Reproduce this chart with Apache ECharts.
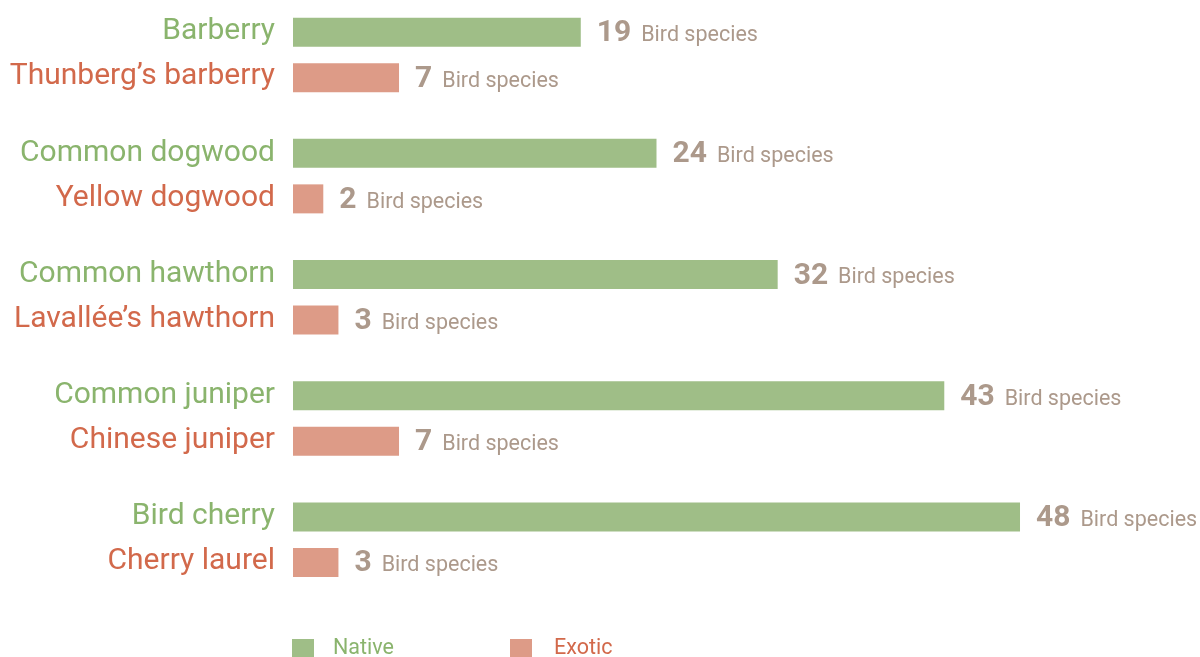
<!DOCTYPE html>
<html>
<head>
<meta charset="utf-8">
<script src="https://cdn.jsdelivr.net/npm/echarts@6/dist/echarts.min.js"></script>
<style>html,body{margin:0;padding:0;background:#fff}#c{width:1200px;height:657px}</style>
</head>
<body>
<div id="c"></div>
<script>
var nativeNames = ['Barberry', 'Common dogwood', 'Common hawthorn', 'Common juniper', 'Bird cherry'];
var exoticNames = ['Thunberg\u2019s barberry', 'Yellow dogwood', 'Lavall\u00e9e\u2019s hawthorn', 'Chinese juniper', 'Cherry laurel'];
var nativeValues = [19, 24, 32, 43, 48];
var exoticValues = [7, 2, 3, 7, 3];
var seriesNames = ['Native', 'Exotic'];
var unitText = 'Bird species';

var GREEN_BAR = '#9fbe87', RED_BAR = '#dd9b87';
var GREEN_TXT = '#8ab46d', RED_TXT = '#d2694b';
var VAL_TXT = '#ac998b';
var FONT = 'Roboto';

var chart = echarts.init(document.getElementById('c'), null, {renderer: 'canvas'});

function valueLabel() {
  return {
    show: true,
    position: 'right',
    distance: 16,
    formatter: function (p) { return '{n|' + p.value + '}{u|' + unitText + '}'; },
    rich: {
      n: {fontFamily: FONT, fontSize: 30, fontWeight: 'bold', color: VAL_TXT, padding: [0, 10, 0, 0], verticalAlign: 'bottom', lineHeight: 33},
      u: {fontFamily: FONT, fontSize: 21.5, color: VAL_TXT, verticalAlign: 'bottom', lineHeight: 33, padding: [0, 0, 2, 0]}
    }
  };
}

chart.setOption({
  animation: false,
  textStyle: {fontFamily: FONT},
  grid: {left: 293, top: -5.7, height: 606, width: 757.3, containLabel: false, outerBoundsMode: 'none'},
  xAxis: {type: 'value', min: 0, max: 50, show: false},
  yAxis: {
    type: 'category',
    inverse: true,
    data: nativeNames,
    axisLine: {show: false},
    axisTick: {show: false},
    axisLabel: {
      margin: 18,
      padding: [0, 0, 1, 0],
      formatter: function (v, i) { return '{a|' + nativeNames[i] + '}\n{b|' + exoticNames[i] + '}'; },
      rich: {
        a: {fontFamily: FONT, fontSize: 30, color: GREEN_TXT, lineHeight: 45, align: 'right'},
        b: {fontFamily: FONT, fontSize: 30, color: RED_TXT, lineHeight: 45, align: 'right'}
      }
    }
  },
  legend: {
    top: 637.5,
    left: 292,
    padding: 0,
    itemWidth: 22,
    itemHeight: 19,
    itemGap: 116,
    icon: 'rect',
    data: [
      {name: seriesNames[0], textStyle: {color: GREEN_TXT, padding: [0, 0, 0, 14]}},
      {name: seriesNames[1], textStyle: {color: RED_TXT, padding: [0, 0, 0, 17]}}
    ],
    textStyle: {fontFamily: FONT, fontSize: 21.5}
  },
  series: [
    {
      name: seriesNames[0], type: 'bar', data: nativeValues,
      barWidth: 29, barGap: '57%',
      itemStyle: {color: GREEN_BAR},
      label: valueLabel()
    },
    {
      name: seriesNames[1], type: 'bar', data: exoticValues,
      barWidth: 29, barGap: '57%',
      itemStyle: {color: RED_BAR},
      label: valueLabel()
    }
  ]
});
</script>
</body>
</html>
